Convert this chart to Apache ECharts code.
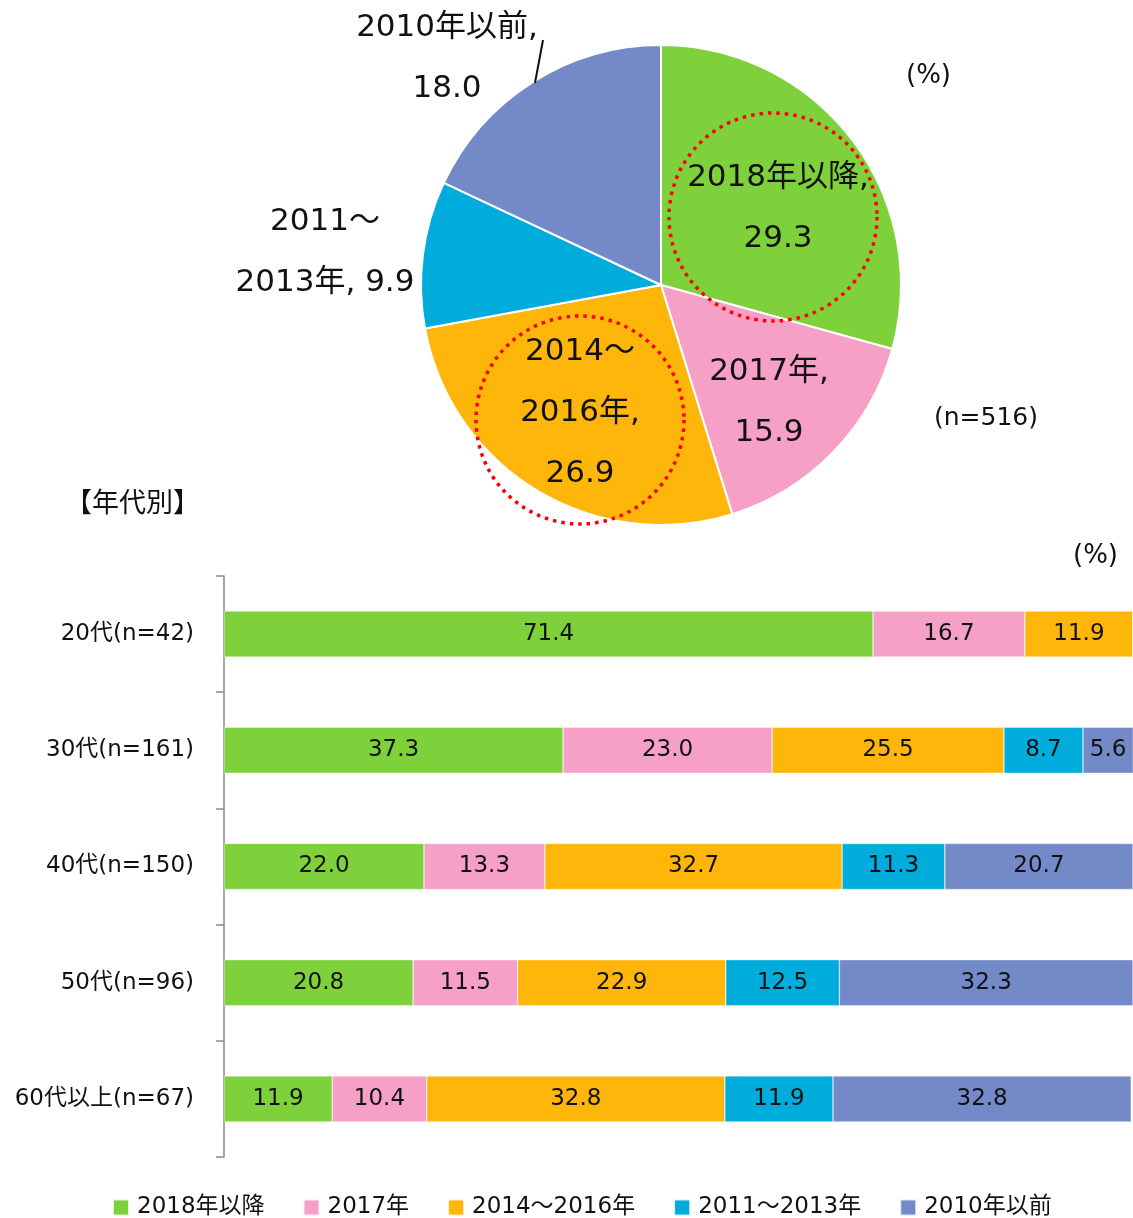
<!DOCTYPE html>
<html>
<head>
<meta charset="utf-8">
<script src="https://cdn.jsdelivr.net/npm/echarts@6/dist/echarts.min.js"></script>
<style>
  html, body { margin: 0; padding: 0; background: #fff; }
  #main { width: 1133px; height: 1218px; }
</style>
</head>
<body>
<div id="main"></div>
<script>
// --- data ---
const periods = ['2018年以降', '2017年', '2014～2016年', '2011～2013年', '2010年以前'];
const pieNames = ['2018年以降', '2017年', '2014～\n2016年', '2011～\n2013年', '2010年以前'];
const pieSep = [',\n', ',\n', ',\n', ', ', ',\n'];
const totalValues = [29.3, 15.9, 26.9, 9.9, 18.0];

const ageGroups = ['20代(n=42)', '30代(n=161)', '40代(n=150)', '50代(n=96)', '60代以上(n=67)'];
const v2018 = [71.4, 37.3, 22.0, 20.8, 11.9];
const v2017 = [16.7, 23.0, 13.3, 11.5, 10.4];
const v2014 = [11.9, 25.5, 32.7, 22.9, 32.8];
const v2011 = [0, 8.7, 11.3, 12.5, 11.9];
const v2010 = [0, 5.6, 20.7, 32.3, 32.8];

// --- styles ---
const colors = ['#7ed13b', '#f6a0c8', '#ffb60b', '#00acdc', '#7489c8'];
const font = "'DejaVu Sans', 'Noto Sans CJK JP', sans-serif";
// where each pie label sits (label text only)
const pieLabelPos = [[778, 208], [769, 402], [580, 413], [325, 252], [447, 58]];

let chart = echarts.init(document.getElementById('main'));

let barSeries = [v2018, v2017, v2014, v2011, v2010].map((vals, i) => ({
    name: periods[i],
    type: 'bar',
    stack: 'all',
    barWidth: 46,
    data: vals,
    itemStyle: {
        color: colors[i],
        borderColor: 'rgba(255,255,255,0.8)',
        borderWidth: 0.5
    },
    label: {
        show: true,
        position: 'inside',
        color: '#111',
        fontFamily: font,
        fontSize: 23,
        formatter: p => p.value ? p.value.toFixed(1) : ''
    }
}));

let option = {
    animation: false,
    color: colors,
    textStyle: { fontFamily: font },
    legend: {
        data: periods,
        top: 1196,
        left: 112,
        padding: 0,
        icon: 'rect',
        itemWidth: 16,
        itemHeight: 16,
        itemGap: 38,
        textStyle: { fontSize: 23, color: '#111', fontFamily: font, padding: [0, 0, 0, 3] }
    },
    grid: {
        left: 224,
        right: 0,
        top: 576,
        bottom: 61
    },
    xAxis: {
        type: 'value',
        min: 0,
        max: 100,
        show: false,
        splitLine: { show: false }
    },
    yAxis: {
        type: 'category',
        inverse: true,
        data: ageGroups,
        axisLine: { show: true, lineStyle: { color: '#8a8a8a', width: 1.5 } },
        axisTick: { show: true, length: 8, lineStyle: { color: '#8a8a8a', width: 1.5 } },
        axisLabel: { margin: 30, fontSize: 23, color: '#111', fontFamily: font }
    },
    graphic: [
        { type: 'text', left: 65, top: 491, style: { text: '【年代別】', fontSize: 27, fill: '#111', fontFamily: font } },
        { type: 'text', left: 906, top: 63, style: { text: '(%)', fontSize: 26, fill: '#111', fontFamily: font } },
        { type: 'text', left: 1073, top: 543, style: { text: '(%)', fontSize: 26, fill: '#111', fontFamily: font } },
        { type: 'text', left: 934, top: 406, style: { text: '(n=516)', fontSize: 25, fill: '#111', fontFamily: font } },
        // leader line for the 2010年以前 label
        { type: 'line', shape: { x1: 535, y1: 83, x2: 543, y2: 40 }, z: 100,
          style: { stroke: '#111', lineWidth: 2 } },
        { type: 'circle', shape: { cx: 773, cy: 217, r: 104 }, z: 100,
          style: { fill: 'none', stroke: '#ff0000', lineWidth: 3.5, lineDash: [3.5, 5] } },
        { type: 'circle', shape: { cx: 580, cy: 420, r: 104 }, z: 100,
          style: { fill: 'none', stroke: '#ff0000', lineWidth: 3.5, lineDash: [3.5, 5] } }
    ],
    series: [{
        name: '全体',
        type: 'pie',
        center: [661, 285],
        radius: 240,
        startAngle: 90,
        clockwise: true,
        itemStyle: { borderColor: '#fff', borderWidth: 2 },
        label: {
            show: true,
            position: 'outside',
            color: '#111',
            fontFamily: font,
            fontSize: 31,
            lineHeight: 61,
            formatter: p => pieNames[p.dataIndex] + pieSep[p.dataIndex] + p.value.toFixed(1)
        },
        labelLine: { show: false },
        labelLayout: p => ({
            x: pieLabelPos[p.dataIndex][0],
            y: pieLabelPos[p.dataIndex][1],
            align: 'center',
            verticalAlign: 'middle'
        }),
        data: totalValues.map((v, i) => ({ name: periods[i], value: v }))
    }].concat(barSeries)
};

chart.setOption(option);
</script>
</body>
</html>
